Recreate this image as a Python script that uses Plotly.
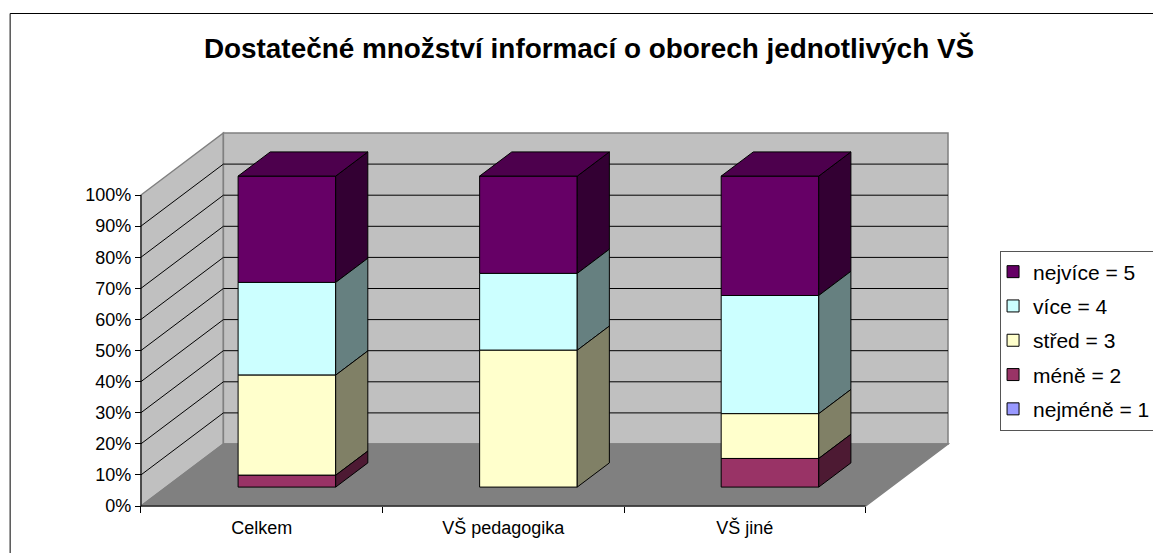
import plotly.graph_objects as go

# --- data ---
categories = ["Celkem", "VŠ pedagogika", "VŠ jiné"]
series_names = ["nejvíce = 5", "více = 4", "střed = 3", "méně = 2", "nejméně = 1"]
nejmene = [0, 0, 0]
mene = [3.8, 0, 9.2]
stred = [32.2, 44.0, 14.4]
vice = [29.8, 24.7, 38.0]
nejvice = [34.2, 31.3, 38.4]
pct_ticks = [0, 10, 20, 30, 40, 50, 60, 70, 80, 90, 100]

# --- style ---
front = {"nejméně = 1": "#9999FF", "méně = 2": "#993366", "střed = 3": "#FFFFCC",
         "více = 4": "#CCFFFF", "nejvíce = 5": "#660066"}
side = {"nejméně = 1": "#4D4D80", "méně = 2": "#4D1A33", "střed = 3": "#808066",
        "více = 4": "#668080", "nejvíce = 5": "#330033"}
top_col = {"nejméně = 1": "#7373BF", "méně = 2": "#73264D", "střed = 3": "#BFBF99",
           "více = 4": "#99BFBF", "nejvíce = 5": "#4D004D"}
WALL, FLOOR, EDGE = "#C0C0C0", "#808080", "#808080"

W, H = 1153, 553
CAT_PX, PCT_PX = 241.8, 3.11
DEPTH_X, DEPTH_Y = 82.5 / CAT_PX, 62 / PCT_PX   # oblique projection in data units
D0, D1 = 0.305, 0.695                            # bar depth span
BAR_W = 0.404
PAD = 10
PAD_Y = 5
NCAT = len(categories)

plot_w = NCAT * CAT_PX + 82.5 + 2 * PAD
plot_h = 100 * PCT_PX + 62 + 2 * PAD_Y
m_l, m_t = 130.5, 128
m_r = W - m_l - plot_w
m_b = H - m_t - plot_h


def pr(x, pct, d=0.0):
    return x + d * DEPTH_X, pct + d * DEPTH_Y


def path(pts):
    return "M" + "L".join(f"{x},{y}" for x, y in pts) + "Z"


shapes = []
# walls and floor
left_wall = [pr(0, 0), pr(0, 100), pr(0, 100, 1), pr(0, 0, 1)]
back_wall = [pr(0, 0, 1), pr(0, 100, 1), pr(NCAT, 100, 1), pr(NCAT, 0, 1)]
floor = [pr(0, 0), pr(0, 0, 1), pr(NCAT, 0, 1), pr(NCAT, 0)]
for pts, col in ((left_wall, WALL), (back_wall, WALL), (floor, FLOOR)):
    shapes.append(dict(type="path", path=path(pts), xref="x", yref="y", layer="below",
                       fillcolor=col, line=dict(color=EDGE, width=1.5)))
# gridlines
for p in pct_ticks[1:-1]:
    a, b, c = pr(0, p), pr(0, p, 1), pr(NCAT, p, 1)
    shapes.append(dict(type="path", path=f"M{a[0]},{a[1]}L{b[0]},{b[1]}L{c[0]},{c[1]}",
                       xref="x", yref="y", layer="below", line=dict(color="#000000", width=1)))
# chart frame
fx0 = (9.5 - m_l) / plot_w
fy1 = (H - m_b - 13.5) / plot_h
shapes.append(dict(type="rect", xref="paper", yref="paper", x0=fx0, x1=1.5, y0=-0.5, y1=fy1,
                   layer="below", fillcolor="rgba(0,0,0,0)", line=dict(color="#000000", width=1)))

fig = go.Figure()

stack_order = [("nejméně = 1", nejmene), ("méně = 2", mene), ("střed = 3", stred),
               ("více = 4", vice), ("nejvíce = 5", nejvice)]
bases = {}
cum = [0.0] * NCAT
for name, vals in stack_order:
    bases[name] = list(cum)
    cum = [c + v for c, v in zip(cum, vals)]
values = dict(stack_order)

centres = [i + 0.5 for i in range(NCAT)]

# front faces: native stacked bars, legend order top to bottom
for name in series_names:
    vals = values[name]
    fig.add_trace(go.Bar(
        x=[c + D0 * DEPTH_X for c in centres],
        y=[v if v > 0 else None for v in vals],
        base=[b + D0 * DEPTH_Y for b in bases[name]],
        width=BAR_W, name=name, legendgroup=name,
        marker=dict(color=front[name], line=dict(color="#000000", width=1)),
        hoverinfo="skip",
    ))


def faces(cols_pts, color):
    xs, ys = [], []
    for pts in cols_pts:
        xs += [p[0] for p in pts] + [pts[0][0], None]
        ys += [p[1] for p in pts] + [pts[0][1], None]
    fig.add_trace(go.Scatter(x=xs, y=ys, mode="lines", fill="toself", fillcolor=color,
                             line=dict(color="#000000", width=1), showlegend=False,
                             hoverinfo="skip", cliponaxis=False))


for name in series_names:
    polys, tops = [], []
    for i, c in enumerate(centres):
        v = values[name][i]
        if v <= 0:
            continue
        b = bases[name][i]
        xr = c + BAR_W / 2
        xl = c - BAR_W / 2
        polys.append([pr(xr, b, D0), pr(xr, b + v, D0), pr(xr, b + v, D1), pr(xr, b, D1)])
        if name == "nejvíce = 5":
            tops.append([pr(xl, b + v, D0), pr(xl, b + v, D1), pr(xr, b + v, D1), pr(xr, b + v, D0)])
    if polys:
        faces(polys, side[name])
    if tops:
        faces(tops, top_col[name])

# axis lines
fig.add_trace(go.Scatter(x=[0, NCAT, None, 0, 0], y=[0, 0, None, 0, 100], mode="lines",
                         line=dict(color="#000000", width=1), showlegend=False,
                         hoverinfo="skip", cliponaxis=False))

fig.update_layout(
    width=W, height=H, autosize=False,
    margin=dict(l=m_l, r=m_r, t=m_t, b=m_b, pad=0, autoexpand=False),
    paper_bgcolor="#FFFFFF", plot_bgcolor="rgba(0,0,0,0)",
    font=dict(family="Liberation Sans, Arial, sans-serif", color="#000000", size=18),
    barmode="overlay", shapes=shapes,
    title=dict(text="<b>Dostatečné množství informací o oborech jednotlivých VŠ</b>",
               font=dict(size=27.9, color="#000000"), x=589 / W, xanchor="center",
               y=1 - 48 / H, yanchor="middle"),
    legend=dict(x=(1000.5 - m_l) / plot_w, y=(H - m_b - 250.5) / plot_h, xanchor="left", yanchor="top",
                bgcolor="#FFFFFF", bordercolor="#555555", borderwidth=1, indentation=-8,
                font=dict(size=21), tracegroupgap=4, traceorder="grouped", itemclick=False),
    xaxis=dict(range=[-PAD / CAT_PX, NCAT + DEPTH_X + PAD / CAT_PX], tickmode="array",
               tickvals=centres, ticktext=categories, ticks="", showgrid=False, zeroline=False,
               showline=False, anchor="free", position=PAD_Y / plot_h, tickfont=dict(size=18),
               ticklabelstandoff=9,
               minor=dict(tickmode="array", tickvals=list(range(NCAT + 1)), ticks="outside",
                          ticklen=6, tickcolor="#000000", tickwidth=1, showgrid=False),
               fixedrange=True),
    yaxis=dict(range=[-PAD_Y / PCT_PX, 100 + DEPTH_Y + PAD_Y / PCT_PX], tickmode="array",
               tickvals=pct_ticks, ticktext=[f"{p}%" for p in pct_ticks], ticks="outside",
               ticklen=6, tickcolor="#000000", showgrid=False, zeroline=False, showline=False,
               anchor="free", position=PAD / plot_w, tickfont=dict(size=18), fixedrange=True),
)

fig.write_html("out.html", config={"displayModeBar": False},
               post_script="document.body.style.margin='0';")
